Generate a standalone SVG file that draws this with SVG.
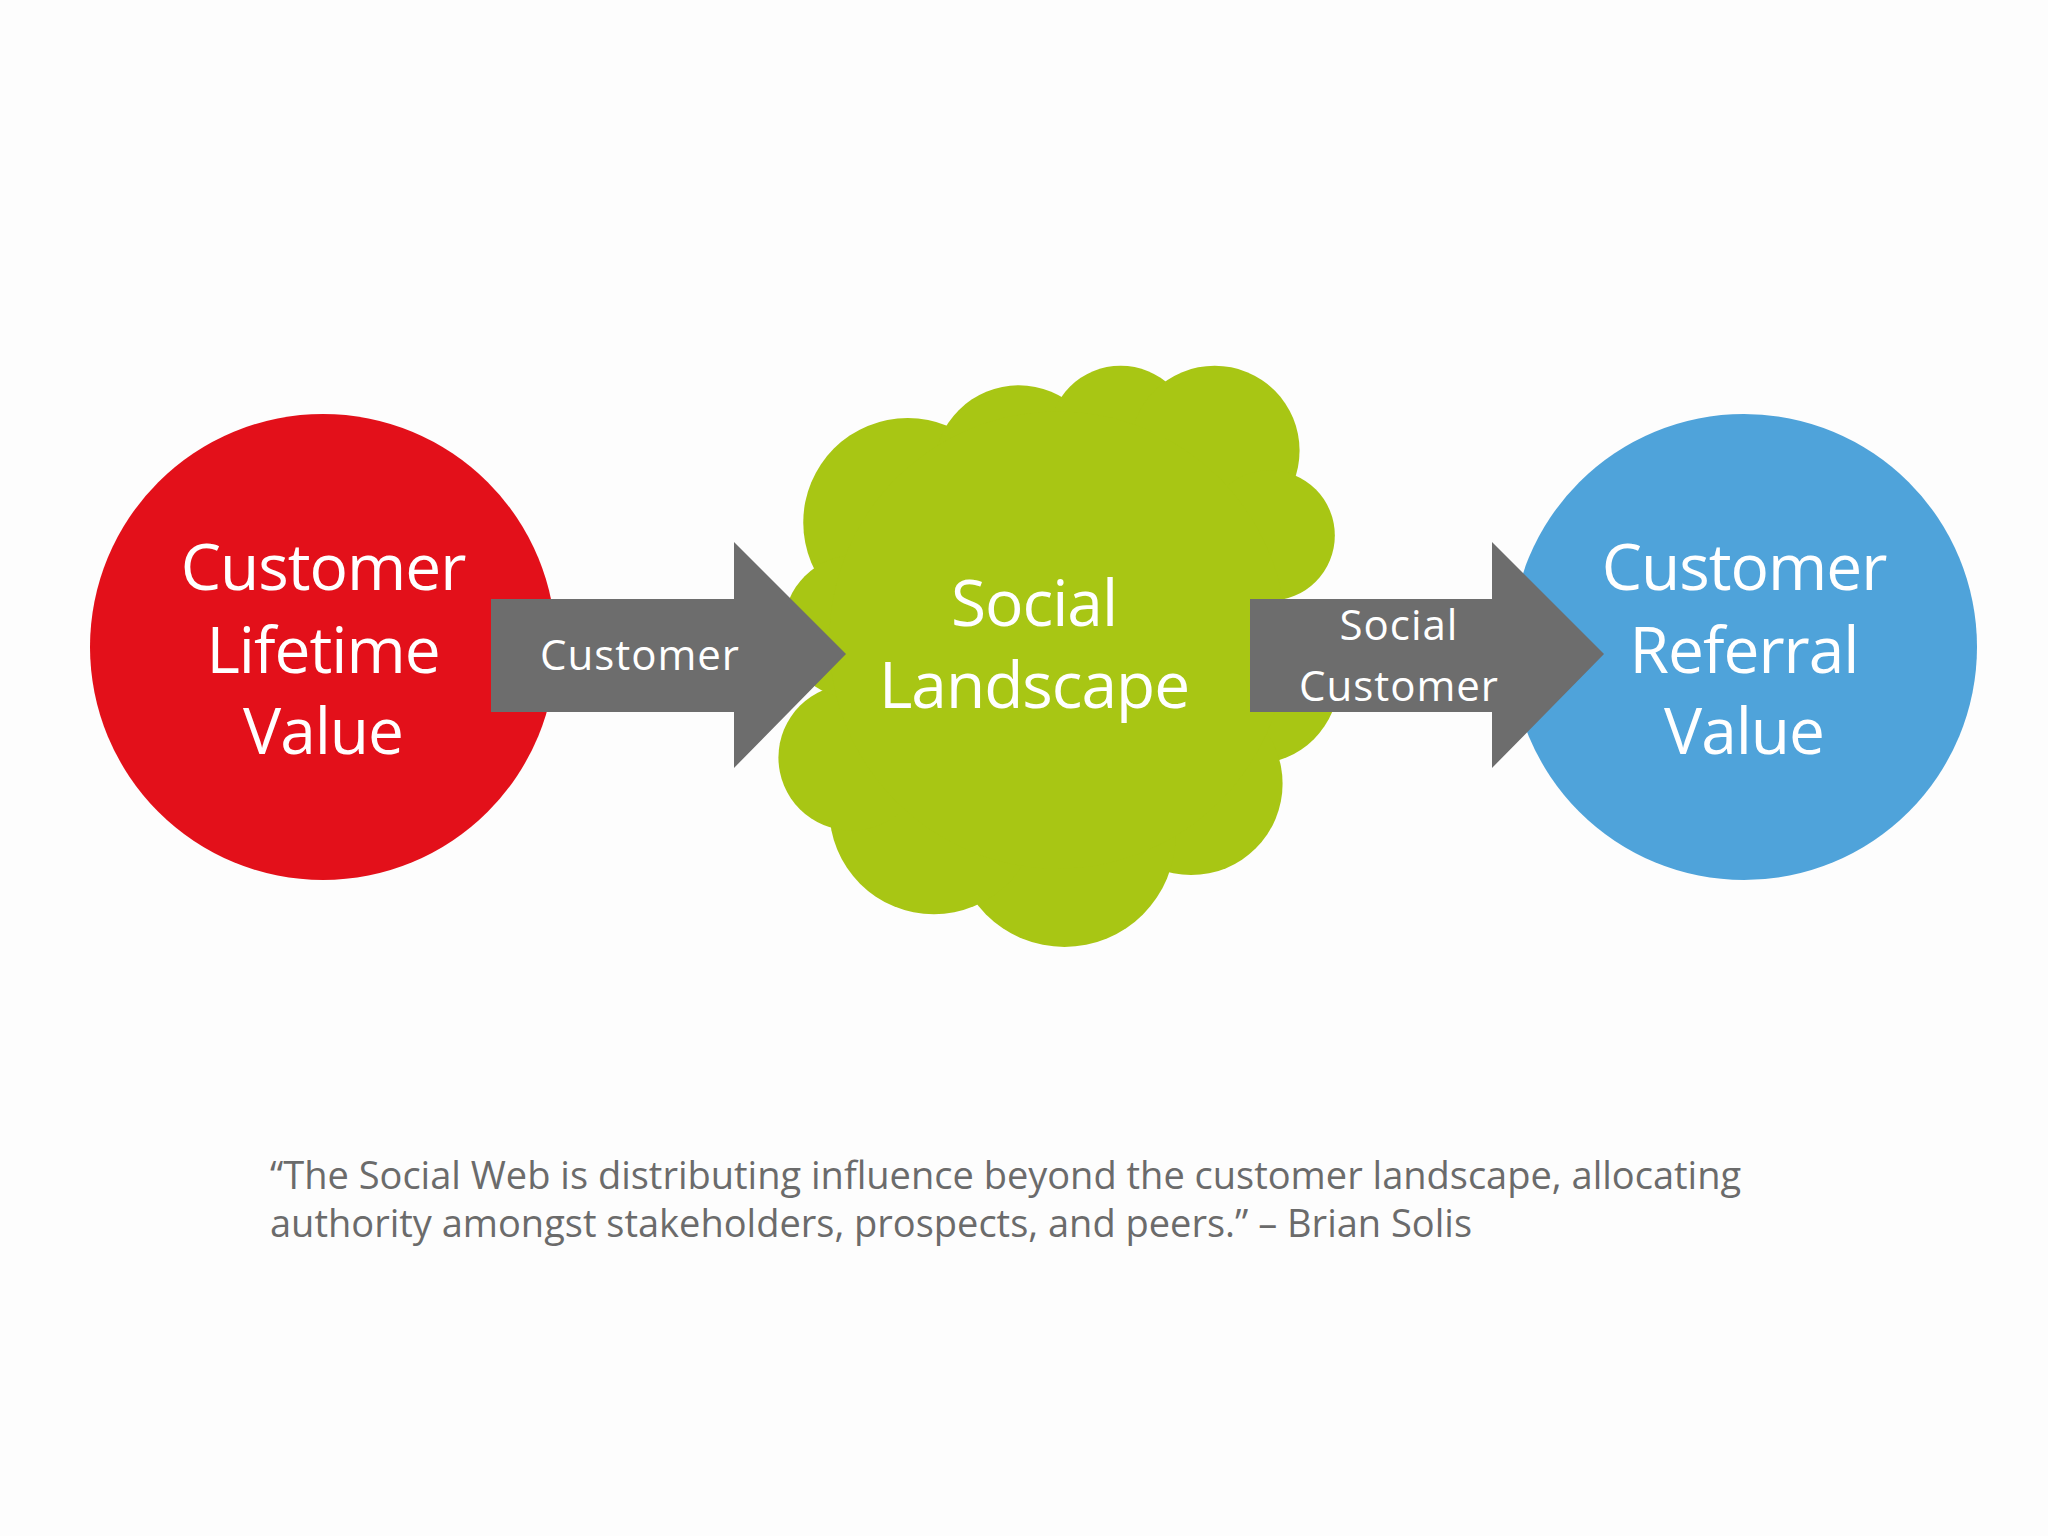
<svg xmlns="http://www.w3.org/2000/svg" width="2048" height="1536" viewBox="0 0 2048 1536">
<style>
.big{font-family:"Open Sans","Noto Sans",sans-serif;fill:#fff;text-anchor:middle;font-size:64px;letter-spacing:-1px}
.lbl{font-family:"Open Sans","Noto Sans",sans-serif;fill:#fff;text-anchor:middle;font-size:42px;letter-spacing:1px}
.q{font-family:"Open Sans","Noto Sans",sans-serif;fill:#6b6b6b;font-size:38px}
</style>
<rect width="2048" height="1536" fill="#fdfdfd"/>
<g id="cloud" fill="#a8c614">
<g transform="scale(1.3061)">
<circle cx="695" cy="400" r="80"/><circle cx="780" cy="360" r="65"/><circle cx="858" cy="335" r="55"/>
<circle cx="930" cy="345" r="65"/><circle cx="972" cy="410" r="50"/><circle cx="960" cy="520" r="65"/>
<circle cx="912" cy="600" r="70"/><circle cx="815" cy="640" r="85"/><circle cx="715" cy="620" r="80"/>
<circle cx="652" cy="580" r="56"/><circle cx="655" cy="480" r="55"/><circle cx="810" cy="490" r="175"/>
</g>
<text class="big" x="1034" y="626">Social</text>
<text class="big" x="1034" y="708">Landscape</text>
</g>
<g id="clv">
<circle cx="323" cy="647" r="233" fill="#e3101a"/>
<text class="big" x="323" y="590">Customer</text>
<text class="big" x="323" y="673">Lifetime</text>
<text class="big" x="323" y="754">Value</text>
</g>
<g id="crv">
<circle cx="1744" cy="647" r="233" fill="#4fa3da"/>
<text class="big" x="1744" y="590">Customer</text>
<text class="big" x="1744" y="673">Referral</text>
<text class="big" x="1744" y="754">Value</text>
</g>
<g id="connectors" fill="#6d6d6d">
<polygon points="491,599 734,599 734,542 846,654 734,768 734,712 491,712"/>
<polygon points="1250,599 1492,599 1492,542 1604,654 1492,768 1492,712 1250,712"/>
<text class="lbl" x="640" y="670">Customer</text>
<text class="lbl" x="1399" y="640">Social</text>
<text class="lbl" x="1399" y="701">Customer</text>
</g>
<text class="q" x="270" y="1189">“The Social Web is distributing influence beyond the customer landscape, allocating</text>
<text class="q" x="270" y="1237">authority amongst stakeholders, prospects, and peers.” – Brian Solis</text>
</svg>
